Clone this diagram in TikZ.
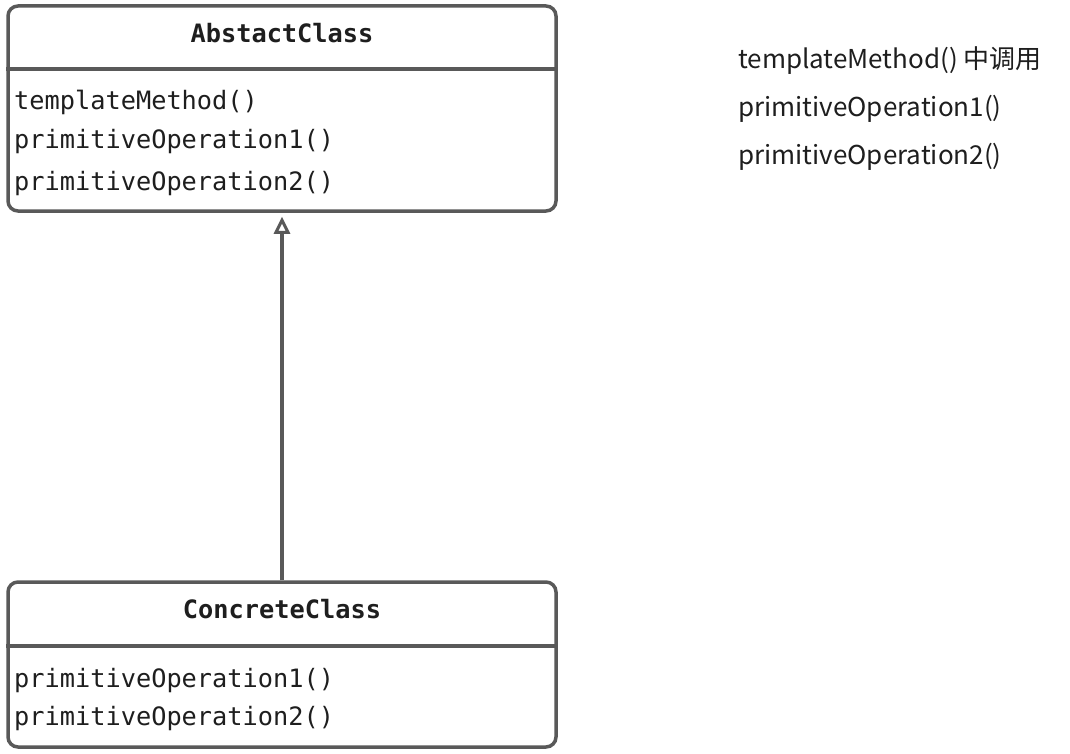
\documentclass[tikz,border=0pt]{standalone}
\usepackage{fontspec}
\setmonofont{DejaVu Sans Mono}
\newfontfamily\cjk{Noto Sans CJK SC}
\usetikzlibrary{arrows.meta,calc}
\definecolor{linegray}{HTML}{595959}
\definecolor{textdark}{HTML}{1E1E1E}
\tikzset{
    class box/.style={
        draw=linegray,line width=3.5pt,rounded corners=10pt,
        fill=white,minimum width=548pt
    },
    class title/.style={
        font=\ttfamily\bfseries\fontsize{25.3}{30}\selectfont,
        text=textdark,anchor=base,inner sep=0pt
    },
    method/.style={
        font=\ttfamily\fontsize{25.3}{30}\selectfont,
        text=textdark,anchor=base west,inner sep=0pt
    },
    inherits/.style={
        draw=linegray,line width=3.5pt,
        -{Triangle[open,fill=white,length=17pt,width=16pt,line width=3pt]}
    }
}

\begin{document}
\begin{tikzpicture}[x=1pt,y=-1pt]
\useasboundingbox (0,0) rectangle (1070,754);
% abstract class
\node[class box,minimum height=205pt] (abstract) at (282,108.5) {};
\node[class title] (abstract_title) at (282,43) {AbstactClass};
\draw[linegray,line width=3.5pt] (abstract.west |- 0,69) -- (abstract.east |- 0,69);
\foreach \i/\y/\name in {1/110/templateMethod(),2/149/primitiveOperation1(),3/190/primitiveOperation2()}
    \node[method] (abstract_m\i) at (14,\y) {\name};
% concrete class
\node[class box,minimum height=165pt] (concrete) at (282,664.5) {};
\node[class title] (concrete_title) at (282,618) {ConcreteClass};
\draw[linegray,line width=3.5pt] (concrete.west |- 0,646) -- (concrete.east |- 0,646);
\foreach \i/\y/\name in {1/687/primitiveOperation1(),2/725/primitiveOperation2()}
    \node[method] (concrete_m\i) at (14,\y) {\name};
% inheritance
\draw[inherits,shorten >=4pt] (concrete.north) -- (abstract.south);
% note
\node[anchor=west,align=left,inner sep=0pt,text=textdark,
      font=\cjk\fontsize{26}{48}\selectfont] (note) at (738,109)
    {templateMethod() 中调用\\primitiveOperation1()\\primitiveOperation2()};
\end{tikzpicture}
\end{document}
